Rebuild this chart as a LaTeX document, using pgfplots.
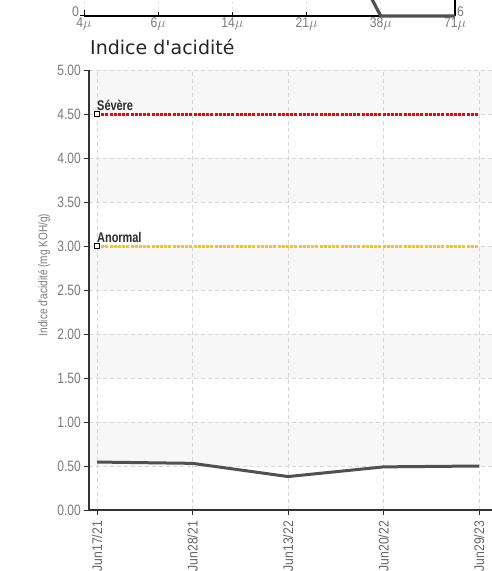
\documentclass[border=0pt]{standalone}
\usepackage{pgfplots}
\pgfplotsset{compat=1.18}
\usepackage{fontspec}
\setmainfont{Liberation Sans}
\newfontfamily\cond[FakeStretch=0.87]{Liberation Sans}
\newfontfamily\condy[FakeStretch=0.8]{Liberation Sans}
\newfontfamily\condlab[FakeStretch=0.8]{Liberation Sans}
\newfontfamily\condbold[FakeStretch=0.78]{Liberation Sans Bold}
\newfontfamily\dejavu{DejaVu Sans}
\definecolor{linegray}{HTML}{505050}
\definecolor{axisdark}{HTML}{333333}
\definecolor{ticklab}{HTML}{7A7A7A}
\definecolor{xlab}{HTML}{666666}
\definecolor{gridc}{HTML}{D6D6D6}
\definecolor{band}{HTML}{F7F7F7}
\definecolor{gold}{HTML}{F5C518}
\definecolor{sevred}{HTML}{FF0000}
\begin{document}
\begin{tikzpicture}
\useasboundingbox (0,0) rectangle (492bp,571bp);
\clip (0,0) rectangle (492bp,571bp);
% background bands
\begin{axis}[at={(89bp,61bp)}, anchor=south west, scale only axis,
  width=403bp, height=440bp, xmin=-0.084, xmax=4.136, ymin=0, ymax=5, hide axis]
  \fill[band] (axis cs:-0.084,4.5) rectangle (axis cs:4.136,5);
  \fill[band] (axis cs:-0.084,3.5) rectangle (axis cs:4.136,4);
  \fill[band] (axis cs:-0.084,2.5) rectangle (axis cs:4.136,3);
  \fill[band] (axis cs:-0.084,1.5) rectangle (axis cs:4.136,2);
  \fill[band] (axis cs:-0.084,0.5) rectangle (axis cs:4.136,1);
\end{axis}
% main axis
\begin{axis}[at={(89bp,61bp)}, anchor=south west, scale only axis,
  width=403bp, height=440bp, xmin=-0.084, xmax=4.136, ymin=0, ymax=5,
  axis x line*=bottom, axis y line*=left,
  axis line style={axisdark, line width=1.2bp, -},
  tick style={axisdark, line width=1bp}, tick align=outside,
  major tick length=5bp,
  grid=major, major grid style={gridc, line width=0.9bp, dash pattern=on 4bp off 3bp},
  xtick={0,1,2,3,4},
  xticklabels={Jun17/21,Jun28/21,Jun13/22,Jun20/22,Jun29/23},
  xticklabel shift=5bp,
  x tick label style={rotate=90, anchor=east, font=\fontsize{14bp}{14bp}\cond, text=xlab, inner sep=1bp},
  ytick={0,0.5,1,1.5,2,2.5,3,3.5,4,4.5,5},
  y tick label style={font=\fontsize{15bp}{15bp}\condy, text=ticklab, inner sep=3bp},
  yticklabel style={/pgf/number format/.cd, fixed, fixed zerofill, precision=2, assume math mode=true},
  ylabel={Indice d'acidité (mg KOH/g)},
  every axis y label/.style={at={(axis description cs:-0.1117,0.534)}, anchor=center, rotate=90,
     font=\fontsize{12.5bp}{12.5bp}\condlab, text=ticklab},
  clip=false]
  \addplot[sevred, line width=3bp, dash pattern=on 3bp off 1.2bp] coordinates {(0,4.5)(4,4.5)};
  \addplot[gold, line width=3bp, dash pattern=on 3bp off 1.2bp] coordinates {(0,3.0)(4,3.0)};
  \addplot[only marks, mark=square*, mark size=2.6bp, mark options={draw=black, fill=white, line width=1bp}] coordinates {(0,4.5)(0,3.0)};
  \node[anchor=base west, font=\fontsize{14bp}{14bp}\condbold, text=gray!40, inner sep=0] at (axis cs:0.005,4.5) [xshift=-0.2bp, yshift=3.2bp] {Sévère};
  \node[anchor=base west, font=\fontsize{14bp}{14bp}\condbold, text=axisdark, inner sep=0] at (axis cs:0,4.5) [yshift=4bp] {Sévère};
  \node[anchor=base west, font=\fontsize{14bp}{14bp}\condbold, text=gray!40, inner sep=0] at (axis cs:0.005,3.0) [xshift=-0.2bp, yshift=3.2bp] {Anormal};
  \node[anchor=base west, font=\fontsize{14bp}{14bp}\condbold, text=axisdark, inner sep=0] at (axis cs:0,3.0) [yshift=4bp] {Anormal};
  \addplot[linegray, line width=3bp] coordinates {(0,0.545)(1,0.53)(2,0.38)(3,0.49)(4,0.50)};
\end{axis}
% top (cropped) chart
\begin{axis}[at={(84bp,555bp)}, anchor=south west, scale only axis,
  width=371bp, height=100bp, xmin=0, xmax=5, ymin=0, ymax=100,
  axis x line*=bottom, axis y line*=right,
  axis line style={black, line width=1.2bp, -},
  tick style={black, line width=1bp}, major tick length=4bp,
  xtick={0,1,2,3,4,5}, xticklabels={4$\mu$,6$\mu$,14$\mu$,21$\mu$,38$\mu$,71$\mu$},
  xticklabel shift=1bp,
  x tick label style={font=\fontsize{14bp}{14bp}\cond, text=ticklab, inner sep=1bp},
  ytick={0}, yticklabels={6},
  y tick label style={font=\fontsize{14bp}{14bp}\cond, text=ticklab, inner sep=1bp, yshift=4bp, xshift=1bp},
  xmajorgrids, major grid style={gridc!70, line width=0.8bp, dash pattern=on 3bp off 3bp},
  clip=false]
  \draw[black, line width=1bp] (axis cs:0,0) ++(-4bp,0) -- ++(8bp,0);
  \draw[black, line width=1bp] (axis cs:0,0) -- ++(0,6bp);
  \node[anchor=east, font=\fontsize{14bp}{14bp}\cond, text=ticklab, inner sep=1bp] at (axis cs:0,0) [xshift=-4bp, yshift=4bp] {0};
  \addplot[linegray, line width=3.2bp] coordinates {(3.5,70)(4,0)(5,0)};
\end{axis}
\node[anchor=base west, font=\fontsize{19bp}{19bp}\dejavu, text=black!85, inner sep=0] at (90bp,516bp) {Indice d'acidité};
\end{tikzpicture}
\end{document}
